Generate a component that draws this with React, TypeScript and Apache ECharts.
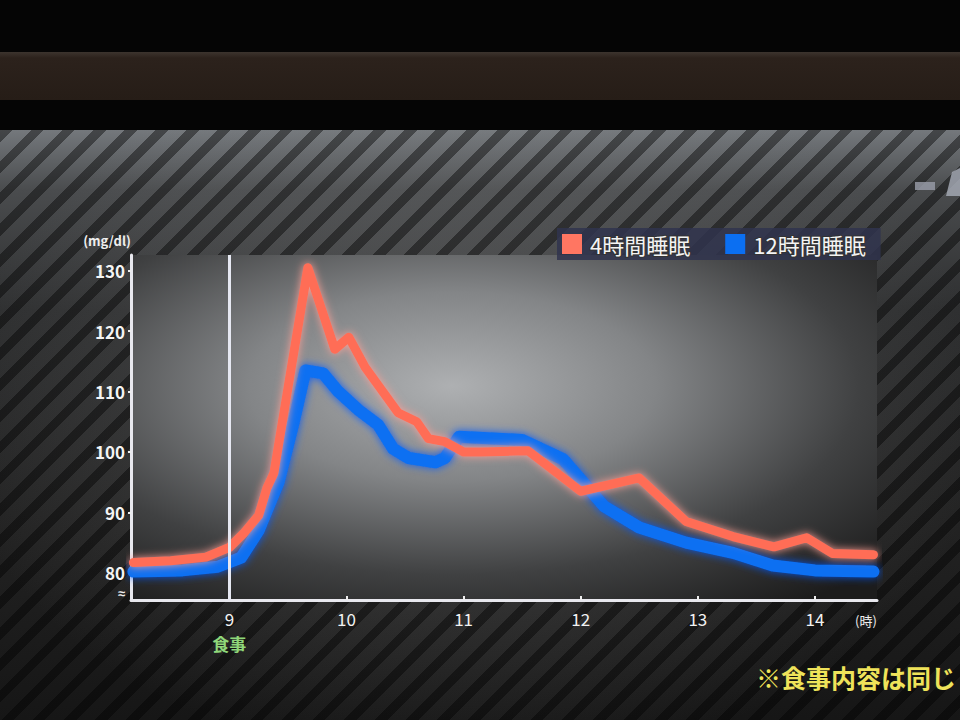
import React, { useEffect, useRef } from "react";
import * as echarts from "echarts";

const seriesNames = ["4時間睡眠", "12時間睡眠"];

const redTimes = [8.18, 8.5, 8.8, 9.0, 9.12, 9.25, 9.32, 9.38, 9.67, 9.9, 9.96, 10.02, 10.16, 10.44, 10.6, 10.7, 10.84, 11.0, 11.15, 11.55, 12.0, 12.5, 12.9, 13.3, 13.65, 13.93, 14.15, 14.5];
const redValues = [81.7, 82.0, 82.6, 84.2, 86.5, 89.5, 94, 96.5, 130.5, 117, 118, 119, 114, 106.5, 105, 102.2, 101.7, 100, 100, 100.2, 93.5, 95.7, 88.5, 86, 84.3, 85.8, 83.2, 83];

const blueTimes = [8.18, 8.6, 8.9, 9.1, 9.25, 9.42, 9.55, 9.65, 9.8, 9.93, 10.1, 10.27, 10.4, 10.53, 10.76, 10.84, 10.96, 11.5, 11.85, 12.2, 12.5, 12.9, 13.3, 13.64, 14.0, 14.5];
const blueValues = [80.2, 80.4, 81, 82.5, 87, 95, 105, 113.5, 113, 110, 107, 104.5, 100.5, 99, 98.3, 99, 102.5, 102, 98.8, 91, 87.5, 85, 83.3, 81.2, 80.4, 80.2];

const xTicks = [9, 10, 11, 12, 13, 14];
const yTicks = [80, 90, 100, 110, 120, 130];
const mealTime = 9;
const mealLabel = "食事";
const yUnit = "(mg/dl)";
const xUnit = "(時)";
const footnote = "※食事内容は同じ";

const pairs = (t: number[], v: number[]) => t.map((x, i) => [x, v[i]]);

export default function App() {
  const ref = useRef<HTMLDivElement>(null);
  useEffect(() => {
    if (!ref.current) return;
    const chart = echarts.init(ref.current, null, { renderer: "svg" });
    const font = "'Noto Sans CJK JP', 'Noto Sans', sans-serif";
    chart.setOption({
      animation: false,
      backgroundColor: "transparent",
      textStyle: { fontFamily: font },
      grid: {
        left: 131,
        right: 83,
        top: 255,
        bottom: 120,
        show: true,
        borderWidth: 0,
        backgroundColor: new echarts.graphic.RadialGradient(0.43, 0.38, 0.78, [
          { offset: 0, color: "#aeb0b2" },
          { offset: 0.35, color: "#838587" },
          { offset: 0.7, color: "#404142" },
          { offset: 1, color: "#1c1c1c" },
        ]),
      },
      legend: {
        left: 557,
        top: 228,
        padding: [4, 14, 4, 5],
        itemGap: 34,
        itemWidth: 20,
        itemHeight: 20,
        icon: "rect",
        backgroundColor: "rgba(48,52,78,0.85)",
        textStyle: {
          color: "#f4f4f4",
          fontSize: 22,
          fontFamily: font,
          textBorderColor: "#333",
          textBorderWidth: 2,
          padding: [0, 0, 0, 3],
        },
        data: seriesNames,
      },
      xAxis: {
        type: "value",
        min: 8.16,
        max: 14.53,
        splitLine: { show: false },
        axisLine: { show: true, lineStyle: { color: "#e8e8ee", width: 3 } },
        axisTick: { show: true, customValues: xTicks, inside: true, length: 4, lineStyle: { color: "#eee", width: 2 } },
        axisLabel: {
          customValues: xTicks,
          color: "#f2f2f2",
          fontSize: 17,
          margin: 10,
          formatter: (v: number) => (v === mealTime ? `${v}\n{g|${mealLabel}}` : `${v}`),
          rich: {
            g: { color: "#8fd77a", fontSize: 17, fontWeight: "bold", padding: [8, 0, 0, 0] },
          },
        },
      },
      yAxis: {
        type: "value",
        min: 75.5,
        max: 132.6,
        name: yUnit,
        nameLocation: "end",
        nameGap: 8,
        nameTextStyle: { color: "#eee", fontSize: 13, align: "right", fontWeight: "bold" },
        splitLine: { show: false },
        axisLine: { show: true, lineStyle: { color: "#e8e8ee", width: 3 } },
        axisTick: { show: true, customValues: yTicks, length: 3, lineStyle: { color: "#eee", width: 2 } },
        axisLabel: { customValues: yTicks, color: "#f4f4f4", fontSize: 17, fontWeight: "bold", margin: 6 },
      },
      series: [
        {
          name: seriesNames[1],
          type: "line",
          data: pairs(blueTimes, blueValues),
          symbol: "none",
          color: "#0b6ff2",
          z: 2,
          lineStyle: { color: "#0b6ff2", width: 12, shadowBlur: 8, shadowColor: "rgba(0,90,255,0.9)", cap: "round", join: "round" },
        },
        {
          name: seriesNames[0],
          type: "line",
          data: pairs(redTimes, redValues),
          symbol: "none",
          color: "#ff7662",
          z: 3,
          lineStyle: { color: "#ff6d56", width: 9, shadowBlur: 8, shadowColor: "rgba(255,160,150,0.95)", cap: "round", join: "round" },
          markLine: {
            silent: true,
            symbol: "none",
            label: { show: false },
            lineStyle: { color: "#e6e8f2", width: 3, type: "solid" },
            data: [{ xAxis: mealTime }],
          },
        },
      ],
      graphic: [
        { type: "text", left: 118, top: 587, style: { text: "≈", fill: "#eee", fontSize: 13, fontWeight: "bold" } },
        { type: "text", left: 855, top: 614, style: { text: xUnit, fill: "#eee", fontSize: 13, fontFamily: font } },
        { type: "text", left: 756, top: 664, style: { text: footnote, fill: "#efe35a", fontSize: 25, fontWeight: "bold", fontFamily: font } },
        { type: "rect", shape: { x: 915, y: 182, width: 20, height: 8 }, style: { fill: "#9a9eaa", opacity: 0.8 } },
        { type: "polygon", shape: { points: [[946, 196], [952, 172], [960, 168], [960, 196]] }, style: { fill: "#a8acb8", opacity: 0.8 } },
      ],
    });
    return () => chart.dispose();
  }, []);

  const screenBg = [
    "repeating-linear-gradient(135deg, rgba(0,0,0,0.42) 0px, rgba(0,0,0,0.42) 9px, rgba(0,0,0,0) 9px, rgba(0,0,0,0) 22px)",
    "radial-gradient(ellipse 520px 360px at 470px 280px, rgba(150,150,150,0.35), rgba(0,0,0,0) 100%)",
    "linear-gradient(to bottom, #74787c 0px, #4a4c4e 60px, #2e2f30 180px, #222 400px, #161616 590px)",
  ].join(", ");

  return (
    <div style={{ position: "fixed", left: 0, top: 0, width: 960, height: 720, background: "#050505", overflow: "hidden" }}>
      <div style={{ position: "absolute", left: 0, top: 52, width: 960, height: 48, background: "linear-gradient(to bottom, #3c342e 0px, #2c221c 6px, #261d17 48px)" }} />
      <div style={{ position: "absolute", left: 0, top: 130, width: 960, height: 590, background: screenBg }} />
      <div ref={ref} style={{ position: "absolute", left: 0, top: 0, width: 960, height: 720 }} />
    </div>
  );
}
